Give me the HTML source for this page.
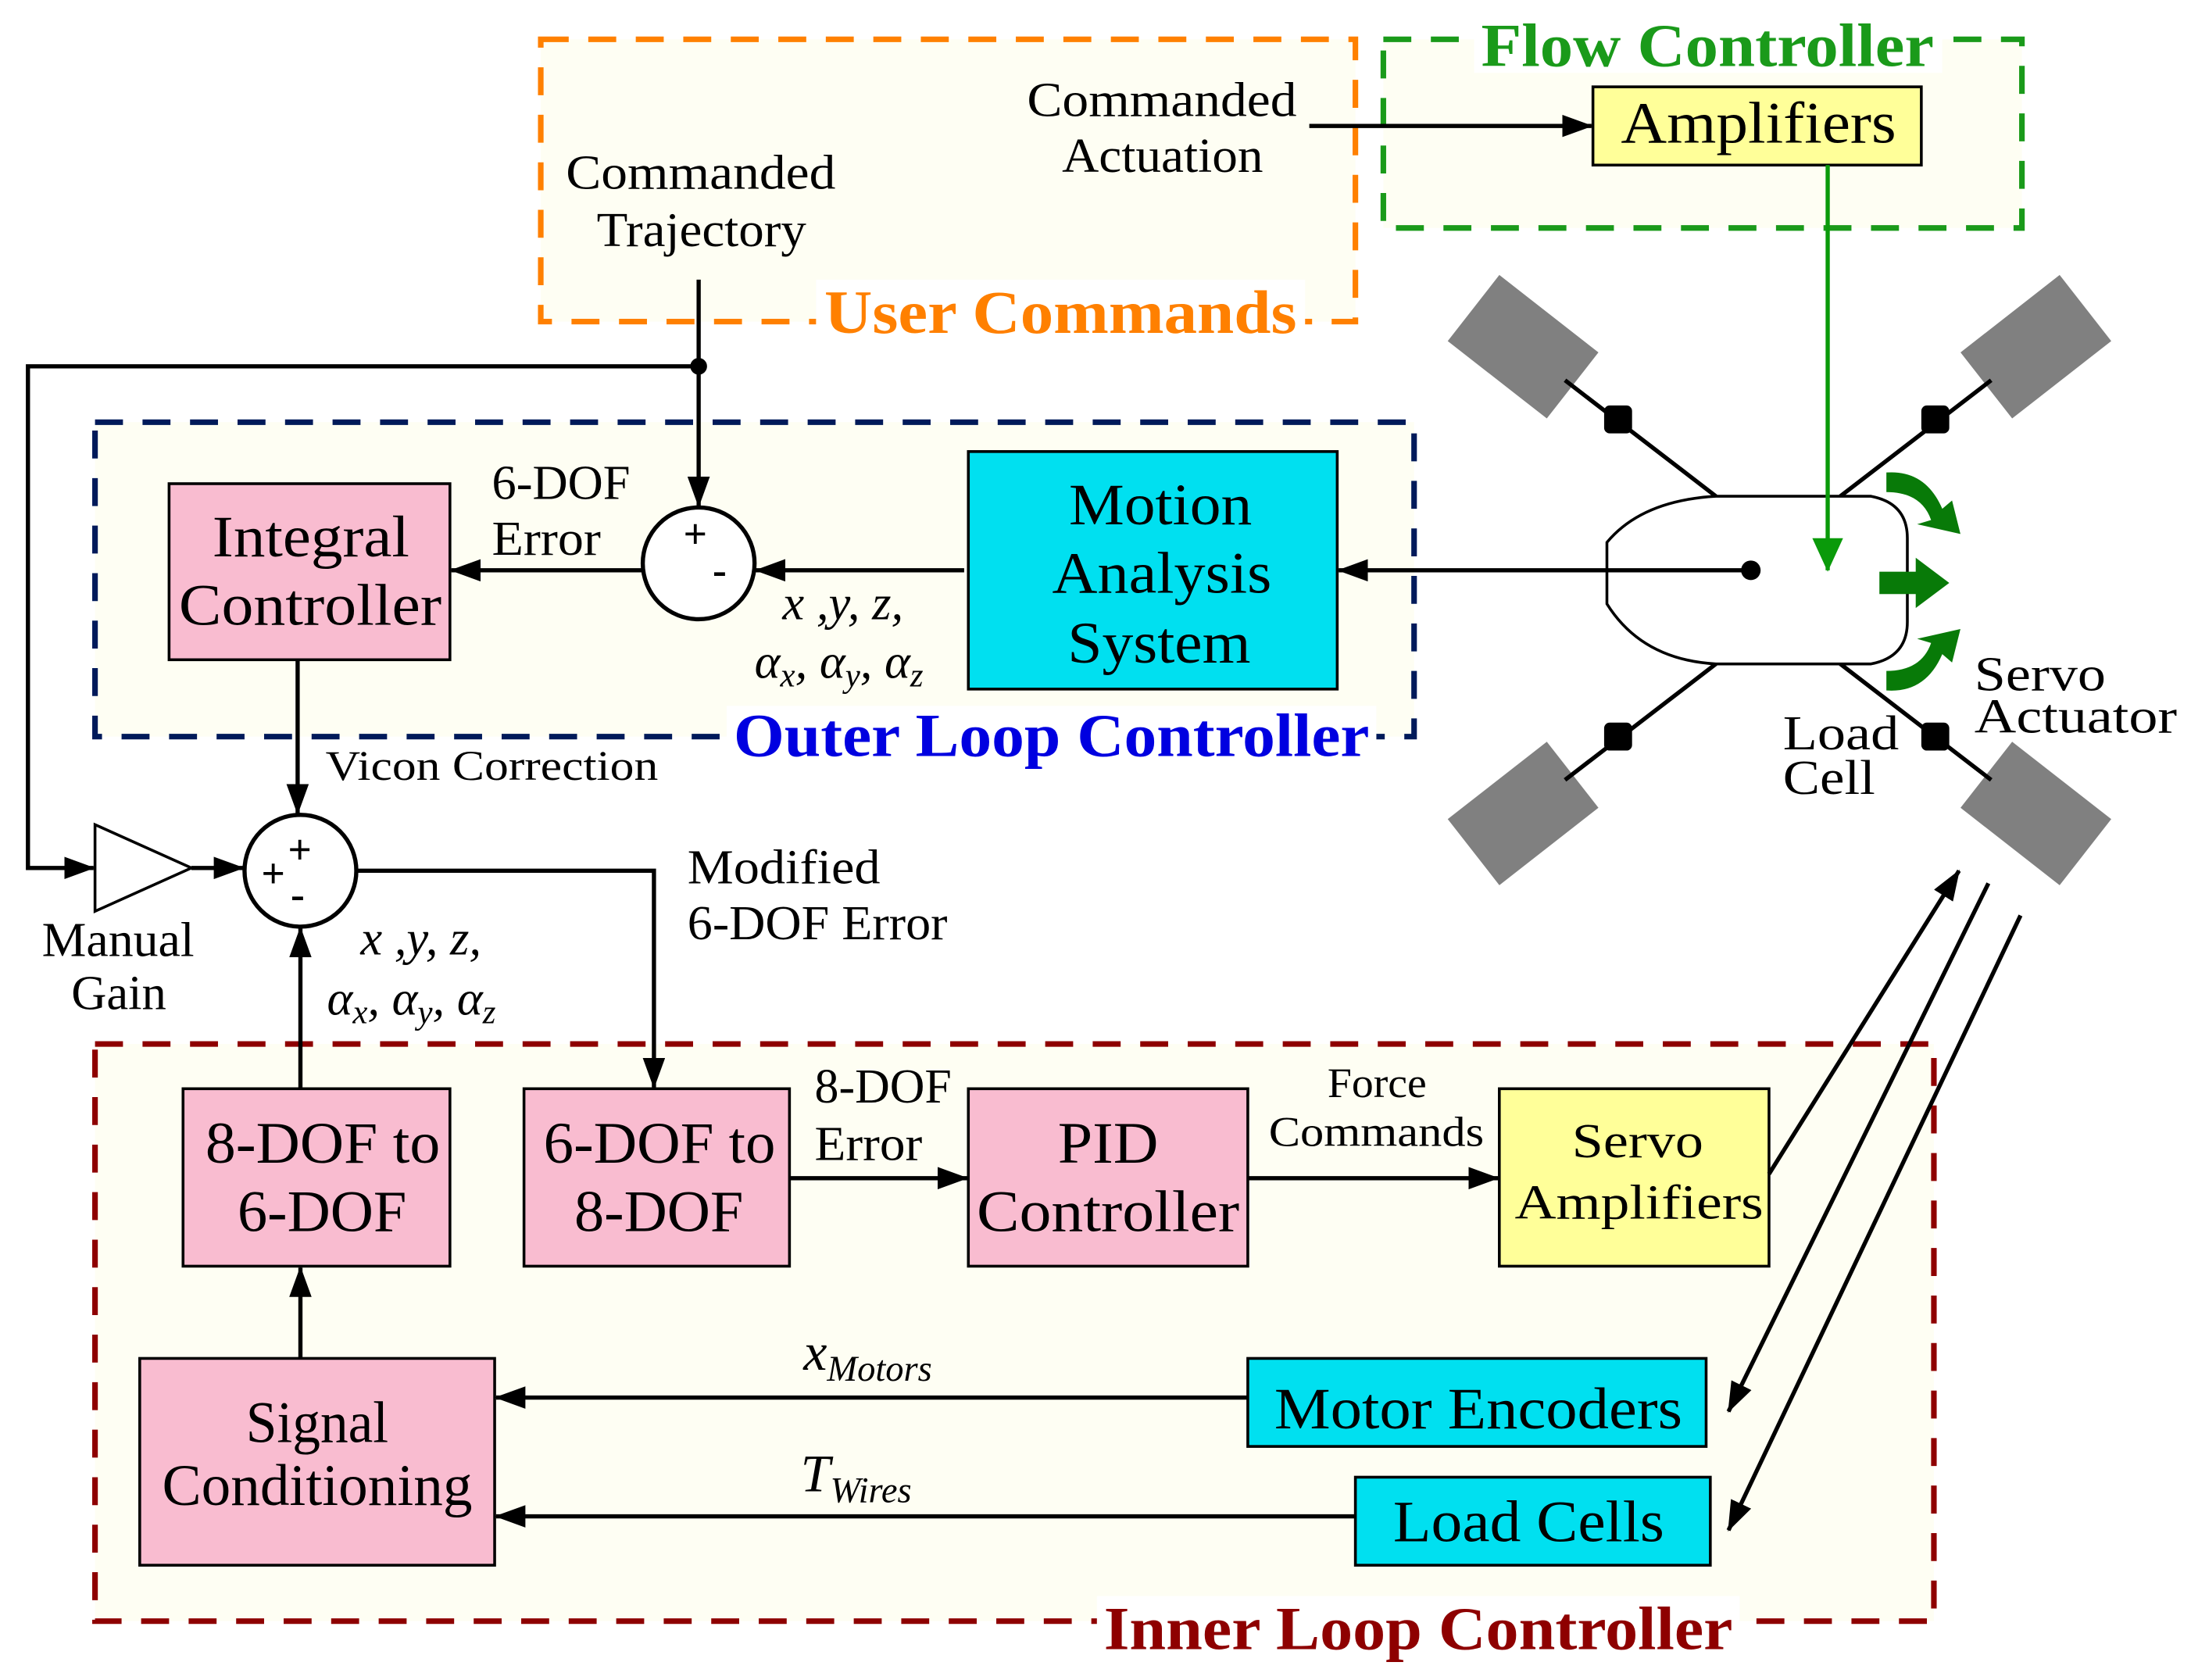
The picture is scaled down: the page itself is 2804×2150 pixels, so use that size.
<!DOCTYPE html>
<html><head><meta charset="utf-8"><style>
html,body{margin:0;padding:0;background:#fff;width:2804px;height:2150px;overflow:hidden}
svg{display:block}
text{font-family:"Liberation Serif",serif;fill:#000}
.b{font-size:42px}
.m{font-size:35px}
.s{font-size:30px}
.i{font-style:italic}
</style></head><body>
<svg width="2804" height="2150" viewBox="0 0 1568 1202" xmlns="http://www.w3.org/2000/svg">
<defs>
<marker id="ah" markerWidth="22" markerHeight="16" refX="21" refY="8" orient="auto" markerUnits="userSpaceOnUse" viewBox="0 0 22 16"><path d="M0,0 L22,8 L0,16 z" fill="#000"/></marker>
<marker id="ag" markerWidth="24" markerHeight="22" refX="23" refY="11" orient="auto" markerUnits="userSpaceOnUse" viewBox="0 0 24 22"><path d="M0,0 L24,11 L0,22 z" fill="#0a9a0a"/></marker>
</defs>
<!-- dashed group boxes -->
<rect x="387" y="28" width="583" height="202" fill="#fefef3" stroke="#ff8000" stroke-width="4" stroke-dasharray="20,14"/>
<rect x="990" y="28" width="457" height="135" fill="#fefef3" stroke="#1a9a1a" stroke-width="4" stroke-dasharray="20,14"/>
<rect x="68" y="302" width="944" height="225" fill="#fefef3" stroke="#001a5a" stroke-width="4" stroke-dasharray="20,14"/>
<rect x="68" y="747" width="1316" height="413" fill="#fefef3" stroke="#8e0000" stroke-width="4" stroke-dasharray="20,14"/>
<!-- group labels -->
<rect x="584" y="200" width="350" height="50" fill="#fff"/>
<text x="590" y="238" textLength="338" lengthAdjust="spacingAndGlyphs" style="font-size:44px;font-weight:bold;fill:#ff8000">User Commands</text>
<rect x="1055" y="8" width="335" height="44" fill="#fff"/>
<text x="1060" y="47" textLength="324" lengthAdjust="spacingAndGlyphs" style="font-size:44px;font-weight:bold;fill:#1a9a1a">Flow Controller</text>
<rect x="520" y="505" width="465" height="44" fill="#fff"/>
<text x="525" y="541" textLength="455" lengthAdjust="spacingAndGlyphs" style="font-size:44px;font-weight:bold;fill:#0000e0">Outer Loop Controller</text>
<rect x="785" y="1142" width="460" height="46" fill="#fff"/>
<text x="790" y="1180" textLength="450" lengthAdjust="spacingAndGlyphs" style="font-size:44px;font-weight:bold;fill:#8e0000">Inner Loop Controller</text>
<!-- boxes -->
<g stroke="#000" stroke-width="2">
<rect x="1140" y="62" width="235" height="56" fill="#ffff99"/>
<rect x="121" y="346" width="201" height="126" fill="#f9bcd0"/>
<rect x="693" y="323" width="264" height="170" fill="#00e0f0"/>
<rect x="131" y="779" width="191" height="127" fill="#f9bcd0"/>
<rect x="375" y="779" width="190" height="127" fill="#f9bcd0"/>
<rect x="693" y="779" width="200" height="127" fill="#f9bcd0"/>
<rect x="1073" y="779" width="193" height="127" fill="#ffff99"/>
<rect x="100" y="972" width="254" height="148" fill="#f9bcd0"/>
<rect x="893" y="972" width="328" height="63" fill="#00e0f0"/>
<rect x="970" y="1057" width="254" height="63" fill="#00e0f0"/>
</g>
<text class="b" x="1160" y="102" textLength="197" lengthAdjust="spacingAndGlyphs">Amplifiers</text>
<text class="b" x="152" y="398" textLength="141" lengthAdjust="spacingAndGlyphs">Integral</text>
<text class="b" x="128" y="447" textLength="188" lengthAdjust="spacingAndGlyphs">Controller</text>
<text class="b" x="765" y="375" textLength="131" lengthAdjust="spacingAndGlyphs">Motion</text>
<text class="b" x="753" y="424" textLength="157" lengthAdjust="spacingAndGlyphs">Analysis</text>
<text class="b" x="764" y="474" textLength="131" lengthAdjust="spacingAndGlyphs">System</text>
<text class="b" x="147" y="832" textLength="168" lengthAdjust="spacingAndGlyphs">8-DOF to</text>
<text class="b" x="170" y="881" textLength="121" lengthAdjust="spacingAndGlyphs">6-DOF</text>
<text class="b" x="389" y="832" textLength="166" lengthAdjust="spacingAndGlyphs">6-DOF to</text>
<text class="b" x="411" y="881" textLength="121" lengthAdjust="spacingAndGlyphs">8-DOF</text>
<text class="b" x="757" y="832" textLength="72" lengthAdjust="spacingAndGlyphs">PID</text>
<text class="b" x="699" y="881" textLength="188" lengthAdjust="spacingAndGlyphs">Controller</text>
<text class="m" x="1125" y="828" textLength="94" lengthAdjust="spacingAndGlyphs">Servo</text>
<text class="m" x="1084" y="872" textLength="178" lengthAdjust="spacingAndGlyphs">Amplifiers</text>
<text class="b" x="176" y="1032" textLength="102" lengthAdjust="spacingAndGlyphs">Signal</text>
<text class="b" x="116" y="1077" textLength="222" lengthAdjust="spacingAndGlyphs">Conditioning</text>
<text class="b" x="912" y="1022" textLength="292" lengthAdjust="spacingAndGlyphs">Motor Encoders</text>
<text class="b" x="997" y="1103" textLength="194" lengthAdjust="spacingAndGlyphs">Load Cells</text>
<!-- sum circles -->
<circle cx="500" cy="403" r="40" fill="#fff" stroke="#000" stroke-width="3"/>
<text x="489" y="392" style="font-size:30px;font-weight:bold">+</text>
<text x="510" y="418" style="font-size:30px;font-weight:bold">-</text>
<circle cx="215" cy="623" r="40" fill="#fff" stroke="#000" stroke-width="3"/>
<text x="206" y="618" style="font-size:30px;font-weight:bold">+</text>
<text x="187" y="635" style="font-size:30px;font-weight:bold">+</text>
<text x="208" y="650" style="font-size:30px;font-weight:bold">-</text>
<polygon points="68,590 68,652 137,621" fill="#fff" stroke="#000" stroke-width="2"/>
<!-- connectors -->
<g stroke="#000" stroke-width="3" fill="none">
<line x1="500" y1="200" x2="500" y2="362" marker-end="url(#ah)"/>
<polyline points="500,262 20,262 20,621 67,621" marker-end="url(#ah)"/>
<line x1="137" y1="621" x2="174" y2="621" marker-end="url(#ah)"/>
<polyline points="255,623 468,623 468,778" marker-end="url(#ah)"/>
<line x1="215" y1="779" x2="215" y2="664" marker-end="url(#ah)"/>
<line x1="213" y1="472" x2="213" y2="582" marker-end="url(#ah)"/>
<line x1="215" y1="972" x2="215" y2="907" marker-end="url(#ah)"/>
<line x1="690" y1="408" x2="541" y2="408" marker-end="url(#ah)"/>
<line x1="460" y1="408" x2="323" y2="408" marker-end="url(#ah)"/>
<line x1="1253" y1="408" x2="958" y2="408" marker-end="url(#ah)"/>
<line x1="937" y1="90" x2="1139" y2="90" marker-end="url(#ah)"/>
<line x1="565" y1="843" x2="692" y2="843" marker-end="url(#ah)"/>
<line x1="893" y1="843" x2="1072" y2="843" marker-end="url(#ah)"/>
<line x1="893" y1="1000" x2="355" y2="1000" marker-end="url(#ah)"/>
<line x1="970" y1="1085" x2="355" y2="1085" marker-end="url(#ah)"/>
<line x1="1266" y1="840" x2="1402" y2="623" marker-end="url(#ah)"/>
<line x1="1423" y1="632" x2="1237" y2="1010" marker-end="url(#ah)"/>
<line x1="1446" y1="655" x2="1237" y2="1095" marker-end="url(#ah)"/>
</g>
<circle cx="500" cy="262" r="6" fill="#000"/>
<!-- vehicle -->
<g fill="#808080">
<rect x="-45" y="-30" width="90" height="60" transform="translate(1090,248) rotate(38)"/>
<rect x="-45" y="-30" width="90" height="60" transform="translate(1457,248) rotate(-38)"/>
<rect x="-45" y="-30" width="90" height="60" transform="translate(1090,582) rotate(-38)"/>
<rect x="-45" y="-30" width="90" height="60" transform="translate(1457,582) rotate(38)"/>
</g>
<g stroke="#000" stroke-width="3">
<line x1="1120" y1="272" x2="1228" y2="355"/>
<line x1="1425" y1="272" x2="1317" y2="355"/>
<line x1="1120" y1="558" x2="1228" y2="475"/>
<line x1="1425" y1="558" x2="1317" y2="475"/>
</g>
<g fill="#000">
<rect x="1148" y="290" width="20" height="20" rx="4"/>
<rect x="1375" y="290" width="20" height="20" rx="4"/>
<rect x="1148" y="517" width="20" height="20" rx="4"/>
<rect x="1375" y="517" width="20" height="20" rx="4"/>
</g>
<path d="M1228,355 L1339,355 Q1365,360 1365,385 L1365,445 Q1365,470 1339,475 L1228,475 Q1175,472 1150,432 L1150,388 Q1175,358 1228,355 Z" fill="#fff" stroke="#000" stroke-width="2"/>
<line x1="1150" y1="408" x2="1253" y2="408" stroke="#000" stroke-width="3"/>
<circle cx="1253" cy="408" r="7" fill="#000"/>
<line x1="1308" y1="118" x2="1308" y2="408" stroke="#0a9a0a" stroke-width="3" marker-end="url(#ag)"/>
<g fill="#087a08">
<path d="M1350,352 Q1375,352 1382,372 L1372,375 L1403,382 L1397,358 L1390,364 Q1378,336 1350,338 Z"/>
<rect x="1345" y="409" width="28" height="16"/>
<polygon points="1371,399 1395,417 1371,435"/>
<path d="M1350,480 Q1375,480 1382,460 L1372,457 L1403,450 L1397,474 L1390,468 Q1378,496 1350,494 Z"/>
</g>
<!-- labels -->
<text class="m" x="735" y="83" textLength="193" lengthAdjust="spacingAndGlyphs">Commanded</text>
<text class="m" x="760" y="123" textLength="144" lengthAdjust="spacingAndGlyphs">Actuation</text>
<text class="m" x="405" y="135" textLength="193" lengthAdjust="spacingAndGlyphs">Commanded</text>
<text class="m" x="427" y="176" textLength="150" lengthAdjust="spacingAndGlyphs">Trajectory</text>
<text class="m" x="352" y="357" textLength="99" lengthAdjust="spacingAndGlyphs">6-DOF</text>
<text class="m" x="352" y="397" textLength="78" lengthAdjust="spacingAndGlyphs">Error</text>
<text class="m i" x="560" y="443">x ,y, z,</text>
<text class="m i" x="540" y="485">α<tspan style="font-size:24px" dy="6">x</tspan><tspan dy="-6">, α</tspan><tspan style="font-size:24px" dy="6">y</tspan><tspan dy="-6">, α</tspan><tspan style="font-size:24px" dy="6">z</tspan></text>
<text class="s" x="233" y="558" textLength="238" lengthAdjust="spacingAndGlyphs">Vicon Correction</text>
<text class="m" x="492" y="632" textLength="138" lengthAdjust="spacingAndGlyphs">Modified</text>
<text class="m" x="492" y="672" textLength="186" lengthAdjust="spacingAndGlyphs">6-DOF Error</text>
<text class="m" x="30" y="684" textLength="109" lengthAdjust="spacingAndGlyphs">Manual</text>
<text class="m" x="51" y="722" textLength="68" lengthAdjust="spacingAndGlyphs">Gain</text>
<text class="m i" x="258" y="683">x ,y, z,</text>
<text class="m i" x="234" y="726">α<tspan style="font-size:24px" dy="6">x</tspan><tspan dy="-6">, α</tspan><tspan style="font-size:24px" dy="6">y</tspan><tspan dy="-6">, α</tspan><tspan style="font-size:24px" dy="6">z</tspan></text>
<text class="m" x="583" y="789" textLength="98" lengthAdjust="spacingAndGlyphs">8-DOF</text>
<text class="m" x="583" y="830" textLength="77" lengthAdjust="spacingAndGlyphs">Error</text>
<text class="s" x="950" y="785" textLength="71" lengthAdjust="spacingAndGlyphs">Force</text>
<text class="s" x="908" y="820" textLength="154" lengthAdjust="spacingAndGlyphs">Commands</text>
<text class="m i" x="575" y="980" style="font-size:38px">x<tspan style="font-size:26px" dy="8">Motors</tspan></text>
<text class="m i" x="573" y="1067" style="font-size:38px">T<tspan style="font-size:26px" dy="8">Wires</tspan></text>
<text class="m" x="1276" y="536" textLength="83" lengthAdjust="spacingAndGlyphs">Load</text>
<text class="m" x="1276" y="568" textLength="66" lengthAdjust="spacingAndGlyphs">Cell</text>
<text class="m" x="1413" y="494" textLength="94" lengthAdjust="spacingAndGlyphs">Servo</text>
<text class="m" x="1413" y="524" textLength="145" lengthAdjust="spacingAndGlyphs">Actuator</text>
</svg>
</body></html>
